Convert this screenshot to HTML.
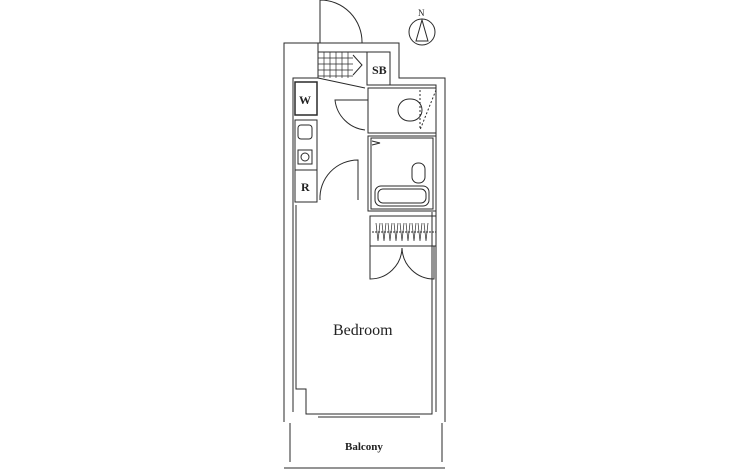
<!DOCTYPE html>
<html><head><style>body{margin:0;background:#fff}svg{display:block}</style></head><body>
<svg width="730" height="470" viewBox="0 0 730 470" xmlns="http://www.w3.org/2000/svg" fill="none" stroke="#2a2a2a" stroke-width="1">
<!-- outer walls -->
<path d="M284 422 V43 H399 V78 H445 V422"/>
<path d="M293 412 V78 H318 M353 52 H390 V85 H436 V412"/>
<path d="M318 43 V78 M318 52 H353"/>
<!-- entry door -->
<path d="M320 43 V0 A42 42 0 0 1 362 43"/>
<!-- stair grid -->
<g stroke-width="0.7">
<path d="M318 58 H353 M318 64 H353 M318 70 H353 M318 76 H353 M324 52 V78 M330 52 V78 M336 52 V78 M342 52 V78 M348 52 V78"/>
</g>
<path d="M318 78 L365 88"/>
<path d="M353 55 L362 65 L353 75"/>
<!-- SB -->
<rect x="367" y="52" width="23" height="33"/>
<text x="372" y="74" font-family="Liberation Serif,serif" font-size="12" font-weight="bold" fill="#222" stroke="none">SB</text>
<!-- W -->
<rect x="295" y="82" width="22" height="33" stroke-width="1.5"/>
<text x="299" y="104" font-family="Liberation Serif,serif" font-size="12" font-weight="bold" fill="#222" stroke="none">W</text>
<rect x="295" y="120" width="22" height="50"/>
<rect x="298" y="125" width="14" height="14" rx="3"/>
<rect x="298" y="150" width="14" height="14"/><circle cx="305" cy="157" r="4"/>
<rect x="295" y="170" width="22" height="32"/>
<text x="301" y="191" font-family="Liberation Serif,serif" font-size="12" font-weight="bold" fill="#222" stroke="none">R</text>
<!-- hall door -->
<path d="M368 100 H335 A34 34 0 0 0 365 130"/>
<path d="M320 200 A38 38 0 0 1 358 160 V200"/>
<!-- toilet room -->
<rect x="368" y="88" width="68" height="45"/>
<rect x="398" y="99" width="24" height="22" rx="11"/>
<path d="M420 90 V130 M436 90 L420 130" stroke-dasharray="2 2"/>
<!-- bath -->
<rect x="368" y="136" width="68" height="75"/>
<rect x="371" y="138" width="62" height="71"/>
<path d="M372 141 L380 143 L372 145"/>
<rect x="412" y="163" width="13" height="20" rx="6"/>
<rect x="375" y="186" width="54" height="20" rx="6"/>
<rect x="378" y="189" width="48" height="14" rx="5"/>
<!-- closet -->
<rect x="370" y="216" width="66" height="30"/>
<path d="M372 232 H436" stroke-dasharray="2 1"/>
<path d="M376 223 l2 18 l2 -18 M382 223 l2 18 l2 -18 M388 223 l2 18 l2 -18 M394 223 l2 18 l2 -18 M400 223 l2 18 l2 -18 M406 223 l2 18 l2 -18 M412 223 l2 18 l2 -18 M418 223 l2 18 l2 -18 M424 223 l2 18 l2 -18" stroke-width="0.7"/>
<path d="M370 246 V279 A32 32 0 0 0 402 248 A32 32 0 0 0 434 279 V246"/>
<!-- bedroom -->
<path d="M296 205 V389 H306 V414 H318 M420 414 H432 V212"/>
<path d="M318 414 H420 M318 417 H420"/>
<text x="333" y="335" font-family="Liberation Serif,serif" font-size="16" fill="#222" stroke="none">Bedroom</text>
<!-- balcony -->
<path d="M290 423 V462 M442 423 V462 M284 468 H445"/>
<text x="345" y="450" font-family="Liberation Serif,serif" font-size="11" font-weight="bold" fill="#222" stroke="none">Balcony</text>
<!-- north -->
<circle cx="422" cy="32" r="13"/>
<path d="M416 41 L422 20 L428 41 Z"/>
<text x="418" y="16" font-family="Liberation Serif,serif" font-size="9" fill="#222" stroke="none">N</text>
</svg>
</body></html>
